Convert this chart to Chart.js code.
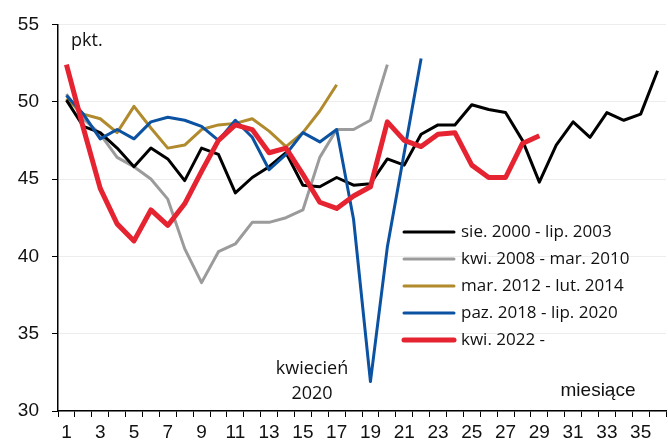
<!DOCTYPE html>
<html>
<head>
<meta charset="utf-8">
<script src="https://cdn.jsdelivr.net/npm/chart.js@4"></script>
<style>
  body { margin: 0; background: #fff; }
</style>
</head>
<body>
<canvas id="chart" width="668" height="446"></canvas>
<script>
// months since start of the cycle
var months = [];
for (var m = 1; m <= 36; m++) months.push(String(m));

var yTicks = [30, 35, 40, 45, 50, 55];

var seriesLabels = ['sie. 2000 - lip. 2003', 'kwi. 2008 - mar. 2010', 'mar. 2012 - lut. 2014', 'paz. 2018 - lip. 2020', 'kwi. 2022 -'];

var s2000 = [50.1, 48.4, 48.0, 47.0, 45.8, 47.0, 46.3, 44.9, 47.0, 46.6, 44.1, 45.1, 45.8, 46.7, 44.6, 44.5, 45.1, 44.6, 44.7, 46.3,
             45.9, 47.9, 48.5, 48.5, 49.8, 49.5, 49.3, 47.5, 44.8, 47.2, 48.7, 47.7, 49.3, 48.8, 49.2, 52.0];
var s2008 = [50.5, 48.9, 47.9, 46.4, 45.8, 45.0, 43.7, 40.5, 38.3, 40.3, 40.8, 42.2, 42.2, 42.5, 43.0, 46.4, 48.2, 48.2, 48.8, 52.4];
var s2012 = [50.2, 49.2, 48.9, 48.0, 49.7, 48.3, 47.0, 47.2, 48.2, 48.5, 48.6, 48.9, 48.1, 47.1, 48.0, 49.4, 51.1];
var s2018 = [50.4, 49.2, 47.6, 48.2, 47.6, 48.7, 49.0, 48.8, 48.4, 47.5, 48.8, 47.7, 45.6, 46.6, 48.0, 47.4, 48.2, 42.4, 31.9, 40.6,
             46.7, 52.8];
var s2022 = [52.4, 48.3, 44.4, 42.1, 41.0, 43.0, 42.0, 43.4, 45.5, 47.5, 48.5, 48.2, 46.7, 47.0, 45.3, 43.5, 43.1, 43.9, 44.5, 48.7,
             47.5, 47.1, 47.9, 48.0, 45.9, 45.1, 45.1, 47.3, 47.8];

var colors = ['#000000', '#9b9b9b', '#b08a2c', '#0b52a2', '#e52331'];
var widths = [3, 3, 3, 3, 5];
var drawOrder = [2, 4, 3, 1, 0];

var tickFont = { family: 'Liberation Sans, Arial, sans-serif', size: 19 };
var textFont = '17px "Open Sans", "Noto Sans", sans-serif';

function makeSet(i, data) {
  return {
    label: seriesLabels[i],
    data: data,
    borderColor: colors[i],
    backgroundColor: colors[i],
    borderWidth: widths[i],
    pointRadius: 0,
    tension: 0,
    fill: false,
    borderJoinStyle: 'round',
    order: drawOrder[i]
  };
}

// legend and free text drawn on top of the plot
var overlay = {
  id: 'overlay',
  afterDraw: function(chart) {
    var ctx = chart.ctx;
    ctx.save();
    ctx.font = textFont;
    ctx.fillStyle = '#111';
    ctx.textBaseline = 'middle';
    for (var i = 0; i < seriesLabels.length; i++) {
      var y = 232 + i * 27;
      ctx.beginPath();
      ctx.strokeStyle = colors[i];
      ctx.lineWidth = widths[i];
      ctx.lineCap = 'round';
      ctx.moveTo(404, y);
      ctx.lineTo(454, y);
      ctx.stroke();
      ctx.textAlign = 'left';
      ctx.fillText(seriesLabels[i], 461, y);
    }
    ctx.font = '18px "Open Sans", "Noto Sans", sans-serif';
    ctx.textAlign = 'left';
    ctx.fillText('pkt.', 71, 41);
    ctx.textAlign = 'center';
    ctx.fillText('kwiecień', 312, 369);
    ctx.fillText('2020', 312, 394);
    ctx.font = '19px "Liberation Sans", Arial, sans-serif';
    ctx.fillText('miesiące', 598, 391);
    ctx.restore();
  }
};

var ctx = document.getElementById('chart').getContext('2d');
var chart = new Chart(ctx, {
  type: 'line',
  data: {
    labels: months,
    datasets: [makeSet(0, s2000), makeSet(1, s2008), makeSet(2, s2012), makeSet(3, s2018), makeSet(4, s2022)]
  },
  options: {
    responsive: false,
    animation: false,
    layout: { padding: { top: 23, right: 2, left: 0, bottom: 0 } },
    plugins: {
      legend: { display: false },
      tooltip: { enabled: false }
    },
    scales: {
      x: {
        offset: true,
        grid: { offset: true, drawOnChartArea: false, tickLength: 6, tickColor: '#000', tickWidth: 1 },
        border: { display: true, color: '#000', width: 1.5 },
        ticks: {
          color: '#111',
          font: tickFont,
          padding: 4,
          autoSkip: false,
          maxRotation: 0,
          callback: function(value, index) {
            return index % 2 === 0 ? months[index] : '';
          }
        },
        afterFit: function(scale) { scale.height = 35; }
      },
      y: {
        min: yTicks[0],
        max: yTicks[yTicks.length - 1],
        afterBuildTicks: function(scale) {
          scale.ticks = yTicks.map(function(v) { return { value: v }; });
        },
        grid: { color: 'rgba(0,0,0,0.07)', tickLength: 6, tickColor: '#000', tickWidth: 1 },
        border: { display: true, color: '#000', width: 1.5 },
        ticks: { color: '#111', font: tickFont, padding: 13 },
        afterFit: function(scale) { scale.width = 58; }
      }
    }
  },
  plugins: [overlay]
});
</script>
</body>
</html>
